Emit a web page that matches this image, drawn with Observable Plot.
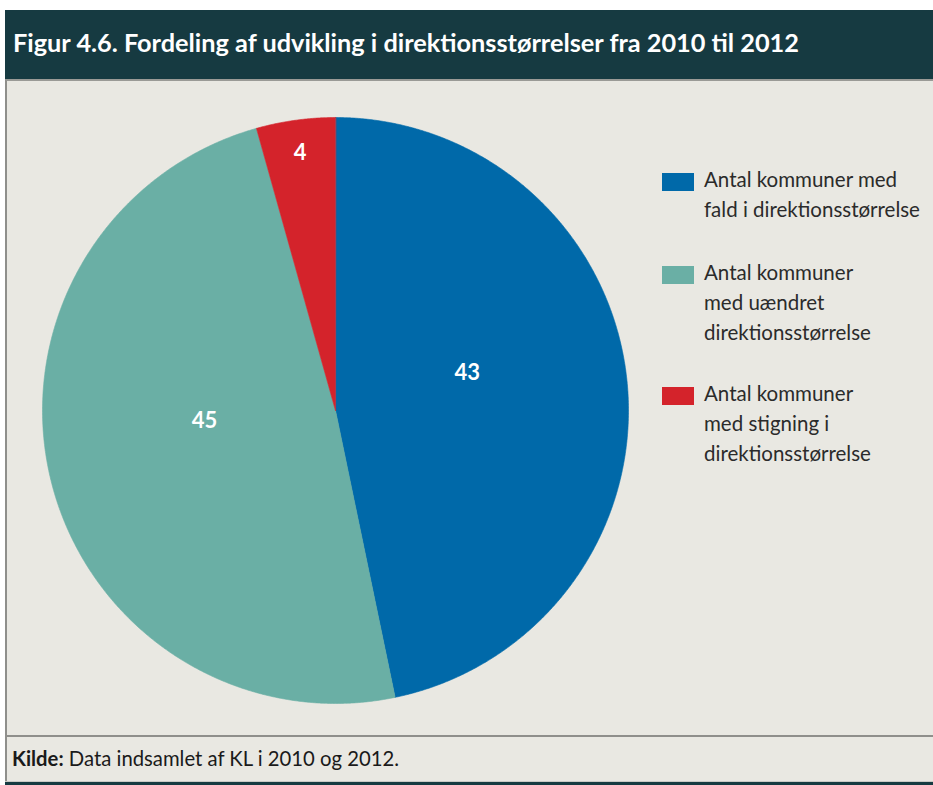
<!DOCTYPE html>
<html>
<head>
<meta charset="utf-8">
<script src="https://cdn.jsdelivr.net/npm/d3@7"></script>
<script src="https://cdn.jsdelivr.net/npm/@observablehq/plot@0.6"></script>
<style>
  html, body { margin: 0; padding: 0; background: #ffffff; }
  body { width: 933px; height: 785px; position: relative; overflow: hidden; font-family: Lato, "Open Sans", sans-serif; }
  #titlebar { position: absolute; left: 5px; top: 10px; width: 928px; height: 69px; background: #163a41; }
  #title { position: absolute; left: 8px; top: 17px; margin: 0; color: #ffffff; font-weight: 700; font-size: 25.3px; white-space: nowrap; letter-spacing: 0; }
  #content { position: absolute; left: 5px; top: 79px; width: 928px; height: 656px; background: #e9e8e2; border-top: 2px solid #9a9a96; border-left: 2px solid #8f8f8b; box-sizing: border-box; }
  #chart { position: absolute; left: 7px; top: 81px; }
  #footer { position: absolute; left: 5px; top: 735px; width: 928px; height: 46px; background: #e9e8e2; border-top: 2px solid #8f8f8b; border-left: 2px solid #8f8f8b; box-sizing: border-box; }
  #caption { position: absolute; left: 5px; top: 9px; margin: 0; color: #1a1a1a; font-size: 20.3px; white-space: nowrap; }
  #bottombar { position: absolute; left: 5px; top: 781px; width: 928px; height: 4px; background: #163a41; border-top: 1px solid #c9c9c5; box-sizing: border-box; }
  .lg-item { position: absolute; left: 704px; color: #2b2b2b; font-size: 20.5px; line-height: 30px; white-space: nowrap; }
  .lg-swatch { position: absolute; left: 662px; width: 32px; height: 18px; }
</style>
</head>
<body>
<div id="titlebar"><p id="title"></p></div>
<div id="content"></div>
<div id="chart"></div>
<div id="legend"></div>
<div id="footer"><p id="caption"></p></div>
<div id="bottombar"></div>
<script>
// ---- data ----
const titleText = "Figur 4.6. Fordeling af udvikling i direktionsstørrelser fra 2010 til 2012";
const sourceLabel = "Kilde:";
const sourceText = " Data indsamlet af KL i 2010 og 2012.";
const categories = ["Fald", "Uændret", "Stigning"];
const values = [43, 45, 4];
const legendLines = [
  ["Antal kommuner med", "fald i direktionsstørrelse"],
  ["Antal kommuner", "med uændret", "direktionsstørrelse"],
  ["Antal kommuner", "med stigning i", "direktionsstørrelse"]
];
// ---- style ----
const palette = ["#0069a9", "#6aafa5", "#d4232b"];

document.getElementById("title").textContent = titleText;
const cap = document.getElementById("caption");
const b = document.createElement("b"); b.textContent = sourceLabel; cap.appendChild(b);
cap.appendChild(document.createTextNode(sourceText));

// pie geometry via d3.pie (angles clockwise from 12 o'clock)
const arcs = d3.pie().sort(null).value(d => d)(values);
const polys = [];
arcs.forEach((a, i) => {
  polys.push({cat: categories[i], x: 0, y: 0});
  const n = Math.max(4, Math.ceil((a.endAngle - a.startAngle) / 0.005));
  for (let k = 0; k <= n; k++) {
    const t = a.startAngle + (a.endAngle - a.startAngle) * k / n;
    polys.push({cat: categories[i], x: Math.sin(t), y: Math.cos(t)});
  }
});

// label placement (radius fraction, angular shift) per slice
const labelPlace = [[0.468, -0.178], [0.448, 0.163], [0.888, 0.0]];
const labels = arcs.map((a, i) => {
  const mid = (a.startAngle + a.endAngle) / 2 + labelPlace[i][1];
  const r = labelPlace[i][0];
  return {cat: categories[i], v: values[i], x: r * Math.sin(mid), y: r * Math.cos(mid)};
});

const plot = Plot.plot({
  width: 926,
  height: 653,
  margin: 0,
  style: {background: "transparent", overflow: "visible"},
  x: {domain: [-1, 1], range: [35, 621], axis: null},
  y: {domain: [-1, 1], range: [622, 36], axis: null},
  color: {domain: categories, range: palette},
  marks: [
    Plot.line(polys, {x: "x", y: "y", z: "cat", fill: "cat", stroke: "cat", strokeWidth: 0.6, curve: "linear-closed"}),
    Plot.text(labels, {x: "x", y: "y", text: d => String(d.v), fill: "white", fontSize: 22, fontWeight: 700, fontFamily: "Lato, 'Open Sans', sans-serif"})
  ]
});
document.getElementById("chart").appendChild(plot);

// legend
const legendTops = [164, 257, 378];
const lg = document.getElementById("legend");
legendLines.forEach((lines, i) => {
  const sw = document.createElement("div");
  sw.className = "lg-swatch";
  sw.style.top = (legendTops[i] + 9) + "px";
  sw.style.background = palette[i];
  lg.appendChild(sw);
  const it = document.createElement("div");
  it.className = "lg-item";
  it.style.top = legendTops[i] + "px";
  lines.forEach((l, j) => { if (j) it.appendChild(document.createElement("br")); it.appendChild(document.createTextNode(l)); });
  lg.appendChild(it);
});
</script>
</body>
</html>
